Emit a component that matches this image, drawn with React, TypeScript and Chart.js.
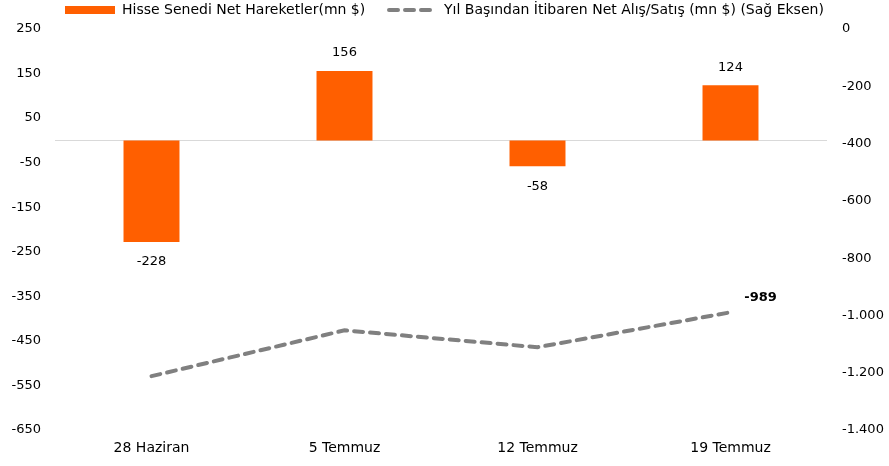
import React, { useEffect, useRef } from "react";
import { Chart, registerables } from "chart.js";

Chart.register(...registerables);

const categories = ["28 Haziran", "5 Temmuz", "12 Temmuz", "19 Temmuz"];
const netMoves = [-228, 156, -58, 124];
const ytdNet = [-1212, -1052, -1111, -989];
const barLabel = "Hisse Senedi Net Hareketler(mn $)";
const lineLabel = "Yıl Başından İtibaren Net Alış/Satış (mn $) (Sağ Eksen)";

const ORANGE = "#FF5F00";
const GRAY = "#808080";
const FONT = "'DejaVu Sans', sans-serif";

function trNum(v: number): string {
  const s = Math.abs(Math.round(v)).toString().replace(/\B(?=(\d{3})+(?!\d))/g, ".");
  return (v < 0 ? "-" : "") + s;
}

const overlayPlugin = {
  id: "overlay",
  beforeDatasetsDraw(chart: any) {
    const ctx = chart.ctx;
    const y0 = chart.scales.y.getPixelForValue(0);
    ctx.save();
    ctx.strokeStyle = "#D9D9D9";
    ctx.lineWidth = 1;
    ctx.beginPath();
    ctx.moveTo(chart.chartArea.left, Math.round(y0) + 0.5);
    ctx.lineTo(chart.chartArea.right, Math.round(y0) + 0.5);
    ctx.stroke();
    ctx.restore();
  },
  afterDatasetsDraw(chart: any) {
    const ctx = chart.ctx;
    ctx.save();
    const barMeta = chart.getDatasetMeta(0);
    ctx.font = `13px ${FONT}`;
    ctx.fillStyle = "#000";
    ctx.textAlign = "center";
    ctx.textBaseline = "middle";
    barMeta.data.forEach((el: any, i: number) => {
      const v = netMoves[i];
      const y = v >= 0 ? el.y - 18 : el.y + 20;
      ctx.fillText(String(v), el.x, y);
    });
    const lineMeta = chart.getDatasetMeta(1);
    const last = lineMeta.data[lineMeta.data.length - 1];
    ctx.font = `bold 13px ${FONT}`;
    ctx.fillText(trNum(ytdNet[ytdNet.length - 1]), last.x + 30, last.y - 15);

    // legend
    ctx.fillStyle = ORANGE;
    ctx.fillRect(65, 6, 50, 8);
    ctx.font = `14px ${FONT}`;
    ctx.fillStyle = "#000";
    ctx.textAlign = "left";
    ctx.fillText(barLabel, 122, 10);
    ctx.strokeStyle = GRAY;
    ctx.lineWidth = 4;
    ctx.lineCap = "round";
    ctx.setLineDash([9, 7]);
    ctx.beginPath();
    ctx.moveTo(389, 10);
    ctx.lineTo(437, 10);
    ctx.stroke();
    ctx.setLineDash([]);
    ctx.fillText(lineLabel, 444, 10);
    ctx.restore();
  },
};

export default function App() {
  const ref = useRef<HTMLCanvasElement>(null);
  useEffect(() => {
    document.body.style.margin = "0";
    const chart = new Chart(ref.current!, {
      type: "bar",
      data: {
        labels: categories,
        datasets: [
          {
            type: "bar",
            label: barLabel,
            data: netMoves,
            backgroundColor: ORANGE,
            yAxisID: "y",
            barPercentage: 0.29,
            categoryPercentage: 1,
            order: 2,
          },
          {
            type: "line",
            label: lineLabel,
            data: ytdNet,
            borderColor: GRAY,
            borderWidth: 4,
            borderDash: [9, 7],
            borderCapStyle: "round",
            pointRadius: 0,
            tension: 0,
            yAxisID: "y1",
            order: 1,
          } as any,
        ],
      },
      options: {
        responsive: false,
        animation: false,
        layout: { padding: { top: 29, left: 0, right: 0, bottom: 0 } },
        plugins: { legend: { display: false }, tooltip: { enabled: false } },
        scales: {
          x: {
            grid: { display: false, drawTicks: false },
            border: { display: false },
            ticks: { color: "#000", font: { family: FONT, size: 14 }, padding: 10 },
            afterFit: (s: any) => { s.height = 36; },
          },
          y: {
            position: "left",
            min: -650,
            max: 250,
            grid: { display: false, drawTicks: false },
            border: { display: false },
            ticks: { stepSize: 100, color: "#000", font: { family: FONT, size: 13 }, padding: 14 },
            afterBuildTicks: (s: any) => {
              const t = [];
              for (let v = -650; v <= 250; v += 100) t.push({ value: v });
              s.ticks = t;
            },
            afterFit: (s: any) => { s.width = 55; },
          },
          y1: {
            position: "right",
            min: -1400,
            max: 0,
            grid: { display: false, drawTicks: false },
            border: { display: false },
            ticks: {
              stepSize: 200,
              color: "#000",
              font: { family: FONT, size: 13 },
              padding: 15,
              callback: (v: any) => trNum(Number(v)),
            },
            afterFit: (s: any) => { s.width = 62; },
          },
        },
      },
      plugins: [overlayPlugin],
    });
    return () => chart.destroy();
  }, []);
  return (
    <div style={{ width: 889, height: 466 }}>
      <canvas ref={ref} width={889} height={466} style={{ display: "block" }} />
    </div>
  );
}
